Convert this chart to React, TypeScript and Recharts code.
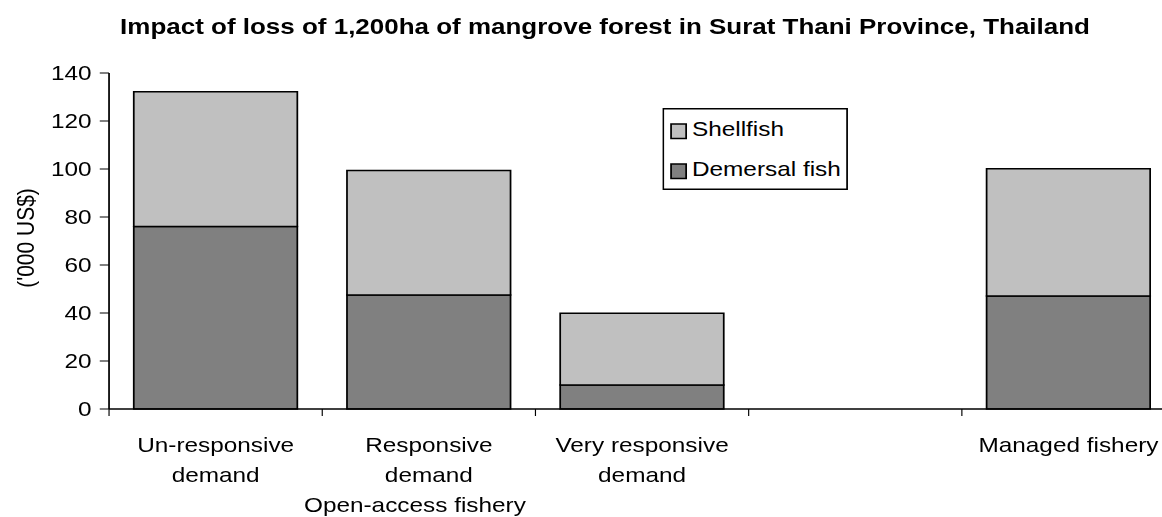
import React from 'react';
import { BarChart, Bar, XAxis, YAxis, Legend } from 'recharts';

const categories = ['Un-responsive\ndemand', 'Responsive\ndemand', 'Very responsive\ndemand', '', 'Managed fishery'];
const demersal = [76, 47.5, 10, null, 47.1];
const shellfish = [56.2, 51.9, 29.9, null, 53.0];
const groupLabels = ['', 'Open-access fishery', '', '', ''];
const yTicks = [0, 20, 40, 60, 80, 100, 120, 140];

const data = categories.map((name, i) => ({
  name,
  group: groupLabels[i],
  'Demersal fish': demersal[i],
  Shellfish: shellfish[i],
}));

// the reference is stretched horizontally, so draw narrower and scale
const SX = 1.16;
const FONT = '"Liberation Sans", Arial, sans-serif';

const CategoryTick = (props: any) => {
  const { x, y, payload, index } = props;
  const half = payload.offset || 0;
  const lines = String(payload.value).split('\n').filter((s) => s.length > 0);
  const group = groupLabels[index];
  return (
    <g>
      <line x1={x - half} x2={x - half} y1={y} y2={y + 7} stroke="#000" strokeWidth={1} />
      {lines.map((t, i) => (
        <text key={i} x={x} y={y + 43 + i * 30} textAnchor="middle" fontSize={21} fontFamily={FONT} fill="#000">
          {t}
        </text>
      ))}
      {group ? (
        <text x={x - 12} y={y + 43 + 2 * 30} textAnchor="middle" fontSize={21} fontFamily={FONT} fill="#000">
          {group}
        </text>
      ) : null}
    </g>
  );
};

const LegendBox = (props: any) => {
  const items = [...(props.payload || [])].reverse();
  return (
    <svg width={160} height={82} style={{ display: 'block', overflow: 'visible' }}>
      <rect x={0.75} y={0.75} width={158.5} height={80.5} fill="#fff" stroke="#000" strokeWidth={1.5} />
      {items.map((it: any, i: number) => (
        <g key={it.value}>
          <rect x={7.5} y={16 + i * 40} width={13} height={14.5} fill={it.color} stroke="#000" strokeWidth={1.5} />
          <text x={25.5} y={28 + i * 40} fontSize={21} fontFamily={FONT} fill="#000">
            {it.value}
          </text>
        </g>
      ))}
    </svg>
  );
};

export default function App() {
  return (
    <div style={{ position: 'fixed', left: 0, top: 0, width: 1162, height: 517, overflow: 'hidden', background: '#fff' }}>
      <div style={{ position: 'relative', width: 1030, height: 517, transform: `scaleX(${SX})`, transformOrigin: '0 0', fontFamily: FONT }}>
        <div
          style={{
            position: 'absolute',
            left: 521.6,
            top: 14.5,
            transform: 'translateX(-50%)',
            whiteSpace: 'nowrap',
            fontWeight: 'bold',
            fontSize: 22.4,
            lineHeight: '24px',
            color: '#000',
          }}
        >
          Impact of loss of 1,200ha of mangrove forest in Surat Thani Province, Thailand
        </div>
        <div
          style={{
            position: 'absolute',
            left: 22.4,
            top: 238,
            transform: 'translate(-50%, -50%) rotate(-90deg)',
            whiteSpace: 'nowrap',
            fontSize: 21,
            lineHeight: 1,
            color: '#000',
          }}
        >
          ('000 US$)
        </div>
        <BarChart
          width={1030}
          height={517}
          data={data}
          margin={{ top: 73, right: 17, bottom: 8, left: 24 }}
          barCategoryGap="11.6%"
          style={{ position: 'absolute', left: 0, top: 0 }}
        >
          <XAxis
            dataKey="name"
            interval={0}
            height={100}
            tickSize={0}
            tickMargin={0}
            tickLine={false}
            axisLine={{ stroke: '#000', strokeWidth: 1.5 }}
            tick={<CategoryTick />}
          />
          <YAxis
            width={70}
            domain={[0, 140]}
            ticks={yTicks}
            interval={0}
            tickSize={8}
            tickMargin={7}
            axisLine={{ stroke: '#000', strokeWidth: 1.5 }}
            tickLine={{ stroke: '#000', strokeWidth: 1 }}
            tick={{ fill: '#000', fontSize: 21, fontFamily: FONT }}
          />
          <Legend
            layout="vertical"
            align="center"
            verticalAlign="middle"
            content={<LegendBox />}
            wrapperStyle={{ position: 'absolute', left: 570.7, top: 108.3, width: 160, height: 82 }}
          />
          <Bar dataKey="Demersal fish" stackId="a" fill="#808080" stroke="#000" strokeWidth={1.5} isAnimationActive={false} />
          <Bar dataKey="Shellfish" stackId="a" fill="#C0C0C0" stroke="#000" strokeWidth={1.5} isAnimationActive={false} />
        </BarChart>
      </div>
    </div>
  );
}
